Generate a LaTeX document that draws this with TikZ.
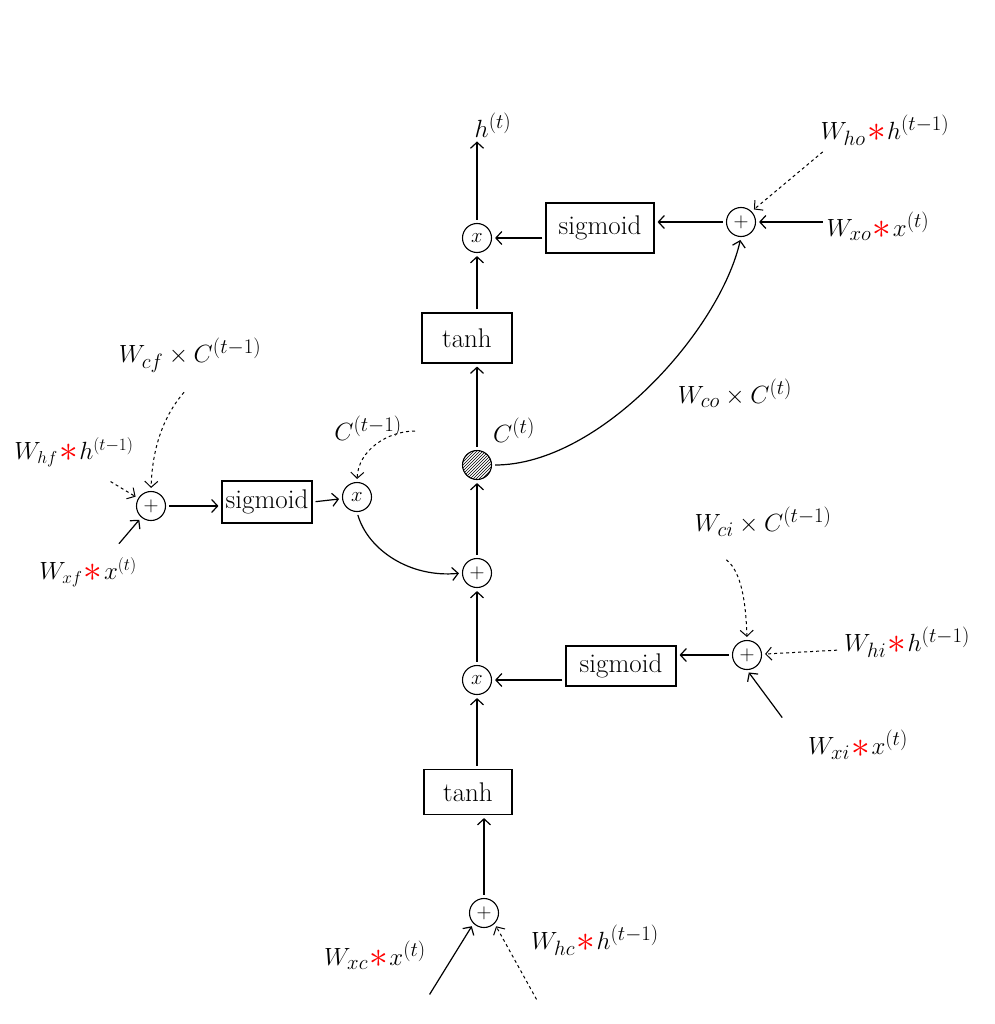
\documentclass[tikz,border=0pt]{standalone}
\usepackage{amsmath}
\usetikzlibrary{arrows.meta,patterns}
\newcommand{\rst}{\mkern1mu{\textcolor{red}{\vcenter{\hbox{\scalebox{1.5}{$\ast$}}}}}\mkern1mu}
\begin{document}
\begin{tikzpicture}[x=1pt,y=-1pt,
  op/.style={circle,draw,line width=1.1pt,minimum size=29pt,inner sep=0pt,font=\fontsize{22}{22}\selectfont},
  fn/.style={rectangle,draw,line width=1.1pt,inner sep=0pt,font=\fontsize{27}{30}\selectfont},
  lbl/.style={inner sep=1pt,font=\fontsize{30}{34}\selectfont},
  slbl/.style={inner sep=1pt,font=\fontsize{26}{30}\selectfont},
  arr/.style={-{Straight Barb[length=6pt,width=13pt]},line width=1.2pt,shorten >=3pt,shorten <=3pt},
  darr/.style={arr,dashed,line width=1pt}]
\useasboundingbox (0,0) rectangle (994,1024);
% central column
\node[lbl] (ht) at (493,125) {$h^{(t)}$};
\node[op] (xtop) at (477,238) {$x$};
\node[fn,minimum width=108pt,minimum height=50pt] (sigtop) at (600,228) {sigmoid};
\node[op] (ptop) at (741,222) {$+$};
\node[lbl] (who) at (885,130) {$W_{ho}\rst h^{(t-1)}$};
\node[lbl] (wxo) at (878,226) {$W_{xo}\rst x^{(t)}$};
\coordinate (fho) at (825,150);
\node[fn,minimum width=90pt,minimum height=50pt] (tanhtop) at (467,338) {tanh};
\node[op,pattern=north east lines,pattern color=black] (cnode) at (477,465) {};
\node[lbl] (ct) at (514,430) {$C^{(t)}$};
\node[lbl] (wco) at (735,393) {$W_{co}\times C^{(t)}$};
\node[op] (pmid) at (477,573) {$+$};
\node[op] (xmid) at (477,680) {$x$};
\node[fn,minimum width=110pt,minimum height=40pt] (sigmid) at (621,666) {sigmoid};
\node[op] (pright) at (747,655) {$+$};
\node[lbl] (wci) at (763,522) {$W_{ci}\times C^{(t-1)}$};
\node[lbl] (whi) at (907,642) {$W_{hi}\rst h^{(t-1)}$};
\node[lbl] (wxi) at (858,745) {$W_{xi}\rst x^{(t)}$};
\coordinate (fci) at (724,558);
\coordinate (fhi) at (840,650);
\coordinate (fxi) at (784,720);
\node[fn,minimum width=88pt,minimum height=45pt] (tanhbot) at (468,792) {tanh};
\node[op] (pbot) at (484,913) {$+$};
\node[lbl] (wxc) at (375,955) {$W_{xc}\rst x^{(t)}$};
\node[lbl] (whc) at (595,940) {$W_{hc}\rst h^{(t-1)}$};
\coordinate (fxc) at (428,997);
\coordinate (fhc) at (538,1002);
% left part
\node[op] (pleft) at (151,506) {$+$};
\node[fn,minimum width=90pt,minimum height=42pt] (sigleft) at (267,502) {sigmoid};
\node[op] (xleft) at (357,497) {$x$};
\node[lbl] (wcf) at (190,355) {$W_{cf}\times C^{(t-1)}$};
\node[slbl] (whf) at (74,452) {$W_{hf}\rst h^{(t-1)}$};
\node[slbl] (wxf) at (88,572) {$W_{xf}\rst x^{(t)}$};
\coordinate (fcf) at (186,390);
\coordinate (fhf) at (108,480);
\coordinate (fxf) at (117,546);
\node[lbl] (cprev) at (368,428) {$C^{(t-1)}$};
\coordinate (fcp) at (418,431);
% connectors, top
\draw[arr] (xtop) -- (xtop |- ht.south);
\draw[arr] (sigtop.west |- xtop) -- (xtop);
\draw[arr] (ptop) -- (ptop -| sigtop.east);
\draw[arr] (wxo.west |- ptop) -- (ptop);
\draw[darr] (fho) -- (ptop.north east);
\draw[arr] (tanhtop.north -| xtop) -- (xtop);
\draw[arr] (cnode) -- (tanhtop.south -| cnode);
\draw[arr] (cnode.east) .. controls (600,465) and (720,330) .. (ptop.south);
\draw[arr] (pmid) -- (cnode);
\draw[arr] (xmid) -- (pmid);
\draw[arr] (sigmid.west |- xmid) -- (xmid);
\draw[arr] (pright) -- (pright -| sigmid.east);
\draw[darr] (fci) .. controls (742,572) and (746,605) .. (pright.north);
\draw[darr] (fhi) -- (pright);
\draw[arr] (fxi) -- (pright.south);
\draw[arr] (tanhbot.north -| xmid) -- (xmid);
\draw[arr] (pbot) -- (tanhbot.south -| pbot);
\draw[arr] (fxc) -- (pbot.south west);
\draw[darr] (fhc) -- (pbot.south east);
% connectors, left
\draw[arr] (pleft) -- (pleft -| sigleft.west);
\draw[arr] (sigleft.east) -- (xleft);
\draw[darr] (fcf) .. controls (160,420) and (152,455) .. (pleft.north);
\draw[darr] (fhf) -- (pleft);
\draw[arr] (fxf) -- (pleft);
\draw[darr] (fcp) .. controls (388,431) and (358,450) .. (xleft.north);
\draw[arr] (xleft.south) .. controls (368,550) and (410,578) .. (pmid.west);
\end{tikzpicture}
\end{document}
